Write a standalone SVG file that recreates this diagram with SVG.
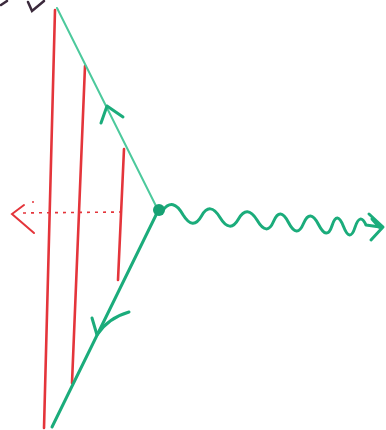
<svg xmlns="http://www.w3.org/2000/svg" width="386" height="430" viewBox="0 0 386 430">
<style>
.red{stroke:#e4353b;stroke-width:2.6;fill:none;stroke-linecap:round}
.gthin{stroke:#4cc99c;stroke-width:2;fill:none;stroke-linecap:round}
.gthick{stroke:#1bac7b;stroke-width:3;fill:none;stroke-linecap:round;stroke-linejoin:round}
.dash{stroke:#e4353b;stroke-width:1.6;fill:none;stroke-dasharray:3 5}
.ink{stroke:#3b2a3c;stroke-width:2.5;fill:none;stroke-linecap:round}
</style>
<rect width="386" height="430" fill="#ffffff"/>
<g id="scribble">
<path class="ink" d="M1,5 L7,1"/>
<path class="ink" d="M28,2 L32,11 L44,1"/>
</g>
<g id="walls">
<path class="red" d="M55,10 L44,428"/>
<path class="red" d="M85,66 L72,383"/>
<path class="red" d="M124,149 L118,280"/>
</g>
<g id="connectors">
<path id="incoming" class="gthin" d="M57,8 L157,208"/>
<path id="outgoing" class="gthick" d="M157,213 L52,427"/>
<path id="arrow-up" class="gthick" d="M101,123 L107,106 L123,117"/>
<path id="arrow-down" class="gthick" d="M92,318 L97,335 Q108,318 129,312"/>
<path id="photon" class="gthick" d="M163,210 Q173,197 183,214.7 Q193,231 201.5,216 Q210,201 220,217.5 Q230,234 238.5,219 Q247,204 257,220 Q267,237 273.5,221.5 Q280,206 288.5,222.5 Q297,239 303.5,223.5 Q310,208 318.5,224.5 Q327,241 332,225.7 Q337,210 343.5,226.5 Q350,243 355,227.4 Q360,212 366,225 L380,227"/>
<path id="photon-head" class="gthick" d="M369,214 L383,227 L371,240 M372,219 L379,227"/>
<path id="dashed" class="dash" d="M122,212 L20,213"/>
<path id="dashed-head" class="red" style="stroke-width:2" d="M24,205 L12,214 L34,233"/>
<circle cx="33" cy="202" r="1" fill="#e4353b"/>
</g>
<g id="vertex">
<circle cx="159" cy="210" r="6" fill="#16a173"/>
</g>
</svg>
